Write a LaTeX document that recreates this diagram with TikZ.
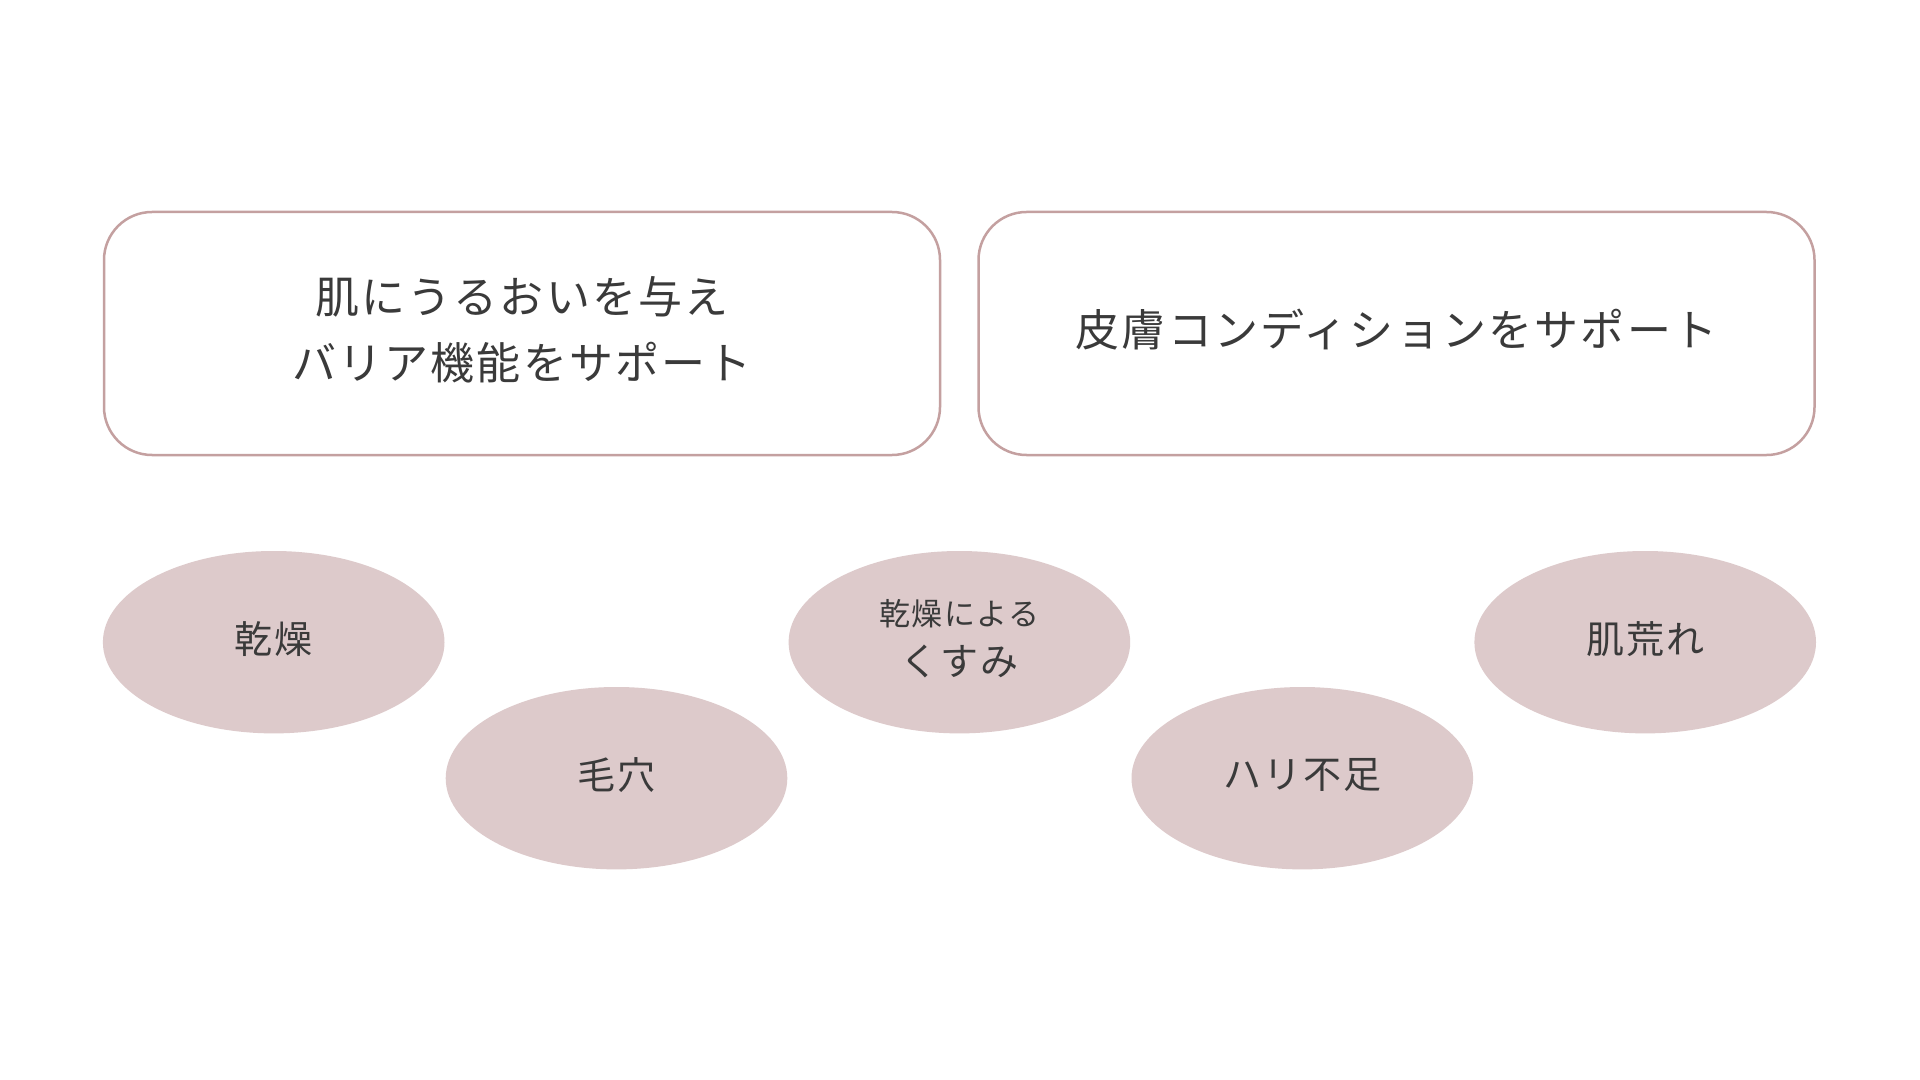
\documentclass[tikz,border=0pt]{standalone}
\usepackage{fontspec}
\setmainfont{Noto Sans CJK JP}[LetterSpace=5]
\usetikzlibrary{shapes.geometric}
\definecolor{sline}{HTML}{C4A0A0}
\definecolor{sfill}{HTML}{DDCACB}
\definecolor{stext}{HTML}{3A3A3A}
\tikzset{
  sbox/.style={draw=sline,line width=1.25pt,rounded corners=24pt,minimum width=418pt,minimum height=121.5pt,text depth=5.6pt,text=stext,align=center,font=\fontsize{22}{33}\selectfont},
  sblob/.style={ellipse,fill=sfill,inner sep=0pt,minimum width=170.8pt,minimum height=91.2pt,text depth=5pt,text=stext,align=center,font=\fontsize{19}{25}\selectfont},
}
\newcommand{\ssmall}{\fontsize{15.5}{25}\selectfont}

\begin{document}
\begin{tikzpicture}[x=0.5pt,y=-0.5pt]
\useasboundingbox[fill=white] (0,0) rectangle (1920,1080);
% ---- the two claim boxes
\node[sbox] (moist) at (522,333.5) {肌にうるおいを与え\\バリア機能をサポート};
\node[sbox] (cond) at (1396.5,333.5) {皮膚コンディションをサポート};
% ---- the five skin concerns, zig-zag below
\node[sblob] (dry) at (273.7,642.2) {乾燥};
\node[sblob] (pore) at (616.5,778.2) {毛穴};
\node[sblob] (dull) at (959.4,642.2) {{\ssmall 乾燥による}\\くすみ};
\node[sblob] (firm) at (1302.3,778.2) {ハリ不足};
\node[sblob] (rough) at (1645.2,642.2) {肌荒れ};
\end{tikzpicture}
\end{document}
